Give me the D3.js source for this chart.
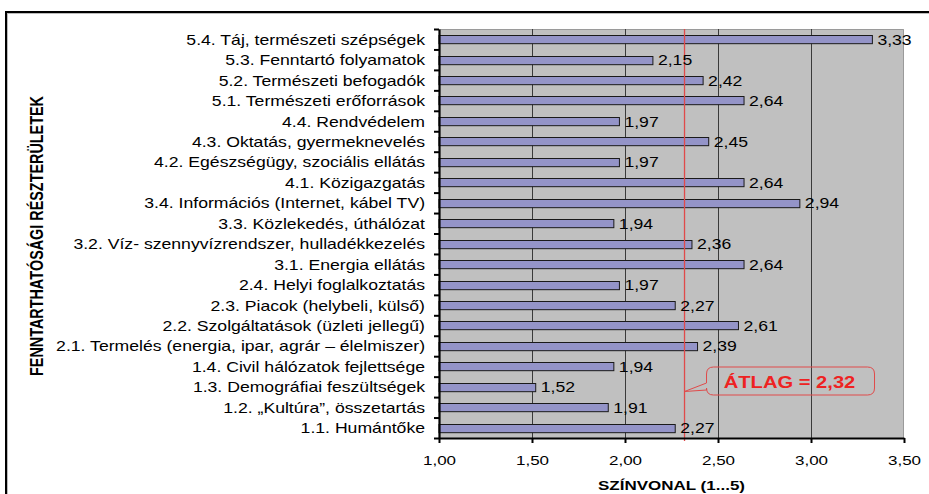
<!DOCTYPE html>
<html>
<head>
<meta charset="utf-8">
<script src="https://cdn.jsdelivr.net/npm/d3@7"></script>
<style>
  body { margin: 0; background: #fff; }
  svg { display: block; font-family: Arial, "Liberation Sans", sans-serif; }
</style>
</head>
<body>
<div id="chart"></div>
<script>
// chart data, top to bottom
const categories = [
    "5.4. Táj, természeti szépségek",
    "5.3. Fenntartó folyamatok",
    "5.2. Természeti befogadók",
    "5.1. Természeti erőforrások",
    "4.4. Rendvédelem",
    "4.3. Oktatás, gyermeknevelés",
    "4.2. Egészségügy, szociális ellátás",
    "4.1. Közigazgatás",
    "3.4. Információs (Internet, kábel TV)",
    "3.3. Közlekedés, úthálózat",
    "3.2. Víz- szennyvízrendszer, hulladékkezelés",
    "3.1. Energia ellátás",
    "2.4. Helyi foglalkoztatás",
    "2.3. Piacok (helybeli, külső)",
    "2.2. Szolgáltatások (üzleti jellegű)",
    "2.1. Termelés (energia, ipar, agrár – élelmiszer)",
    "1.4. Civil hálózatok fejlettsége",
    "1.3. Demográfiai feszültségek",
    "1.2. „Kultúra”, összetartás",
    "1.1. Humántőke"
]
const values = [3.33, 2.15, 2.42, 2.64, 1.97, 2.45, 1.97, 2.64, 2.94, 1.94,
    2.36, 2.64, 1.97, 2.27, 2.61, 2.39, 1.94, 1.52, 1.91, 2.27]
const xTicks = [1.00, 1.50, 2.00, 2.50, 3.00, 3.50]
const average = 2.32
const xTitle = "SZÍNVONAL (1...5)"
const yTitle = "FENNTARTHATÓSÁGI RÉSZTERÜLETEK"

const W = 929, H = 494
const stretch = 1.26 // source picture is stretched sideways
const plot = { left: 439, right: 904, top: 29, bottom: 438 }
const fmt = d => d.toFixed(2).replace('.', ',')

const svg = d3.select('#chart')
    .append('svg')
    .attr('width', W)
    .attr('height', H)

// outer frame (cut off at right and bottom)
svg.append('rect')
    .attr('x', 7).attr('y', 13)
    .attr('width', 1000).attr('height', 1000)
    .attr('fill', 'none')
    .attr('stroke', '#bbb')
    .attr('stroke-width', 2)
svg.append('rect')
    .attr('x', 6).attr('y', 12)
    .attr('width', 1000).attr('height', 1000)
    .attr('fill', 'none')
    .attr('stroke', '#000')
    .attr('stroke-width', 2)

const x = d3.scaleLinear()
    .domain([1, 3.5])
    .range([plot.left, plot.right])
const y = d3.scaleBand()
    .domain(categories)
    .range([plot.top, plot.bottom])
    .paddingInner(0.6)
    .paddingOuter(0.3)
const yEdge = d3.scaleLinear()
    .domain([0, categories.length])
    .range([plot.top, plot.bottom])

// plot background
svg.append('rect')
    .attr('x', plot.left).attr('y', plot.top)
    .attr('width', plot.right - plot.left)
    .attr('height', plot.bottom - plot.top)
    .attr('fill', '#c0c0c0')
svg.append('path')
    .attr('d', `M${plot.left},${plot.top + 0.5}H${plot.right - 0.5}V${plot.bottom}`)
    .attr('fill', 'none')
    .attr('stroke', '#9a9a9a')

// grid lines
svg.append('g')
    .selectAll('line')
    .data(xTicks.slice(1, -1))
    .join('line')
    .attr('x1', d => Math.round(x(d)) + 0.5)
    .attr('x2', d => Math.round(x(d)) + 0.5)
    .attr('y1', plot.top)
    .attr('y2', plot.bottom)
    .attr('stroke', '#3a3a3a')

// bars
svg.append('g')
    .selectAll('rect')
    .data(values)
    .join('rect')
    .attr('x', x(1))
    .attr('y', (d, i) => Math.round(y(categories[i])) + 0.5)
    .attr('width', d => x(d) - x(1))
    .attr('height', y.bandwidth())
    .attr('fill', '#9494c8')
    .attr('stroke', '#1a1a1a')
    .attr('stroke-width', 1)

// average line
svg.append('line')
    .attr('x1', x(average)).attr('x2', x(average))
    .attr('y1', plot.top).attr('y2', plot.bottom + 3)
    .attr('stroke', '#e04a4a')
    .attr('stroke-width', 1.3)

// value labels
svg.append('g')
    .selectAll('text')
    .data(values)
    .join('text')
    .attr('transform', (d, i) => `translate(${x(d) + 5},${y(categories[i]) + y.bandwidth() / 2 + 5.5}) scale(${stretch},1)`)
    .attr('font-size', 14)
    .attr('fill', '#000')
    .text(fmt)

// y axis: ticks on category borders
const yAxis = svg.append('g')
    .attr('transform', `translate(${plot.left},0)`)
    .call(d3.axisLeft(yEdge).ticks(categories.length).tickSize(5).tickSizeOuter(0).tickFormat(''))
yAxis.select('.domain').attr('stroke-width', 2.2).attr('stroke', '#000')
yAxis.selectAll('.tick line').attr('stroke-width', 2).attr('stroke', '#000')

// category labels
svg.append('g')
    .selectAll('text')
    .data(categories)
    .join('text')
    .attr('transform', d => `translate(425,${y(d) + y.bandwidth() / 2 + 5.5}) scale(${stretch},1)`)
    .attr('text-anchor', 'end')
    .attr('font-size', 14)
    .attr('fill', '#000')
    .text(d => d)

// x axis
const xAxis = svg.append('g')
    .attr('transform', `translate(0,${plot.bottom})`)
    .call(d3.axisBottom(x).tickValues(xTicks).tickFormat(fmt).tickSize(5).tickSizeOuter(0))
xAxis.select('.domain').attr('stroke-width', 2.2).attr('stroke', '#000')
xAxis.selectAll('.tick line').attr('stroke-width', 2).attr('stroke', '#000')
xAxis.selectAll('.tick text')
    .attr('font-size', 13.5)
    .attr('font-family', 'Arial, "Liberation Sans", sans-serif')
    .attr('fill', '#000')
    .attr('y', 23)
    .attr('dy', '0.32em')
    .attr('transform', `scale(${stretch},1)`)

// axis titles
svg.append('text')
    .attr('transform', `translate(${(plot.left + plot.right) / 2},490) scale(${stretch},1)`)
    .attr('text-anchor', 'middle')
    .attr('font-size', 13.5)
    .attr('font-weight', 'bold')
    .attr('fill', '#000')
    .text(xTitle)
svg.append('text')
    .attr('transform', `translate(43,236) rotate(-90) scale(1,${stretch})`)
    .attr('text-anchor', 'middle')
    .attr('font-size', 14.4)
    .attr('font-weight', 'bold')
    .attr('fill', '#000')
    .text(yTitle)

// callout for the average
const tipX = x(average), tipY = 391.5
const bx0 = tipX + 22, bx1 = tipX + 190, by0 = 367, by1 = 395, r = 7
const callout = d3.path()
callout.moveTo(bx0, by1 - 5)
callout.lineTo(tipX, tipY)
callout.lineTo(bx0, by0 + 16)
callout.lineTo(bx0, by0 + r)
callout.quadraticCurveTo(bx0, by0, bx0 + r, by0)
callout.lineTo(bx1 - r, by0)
callout.quadraticCurveTo(bx1, by0, bx1, by0 + r)
callout.lineTo(bx1, by1 - r)
callout.quadraticCurveTo(bx1, by1, bx1 - r, by1)
callout.lineTo(bx0 + r, by1)
callout.quadraticCurveTo(bx0, by1, bx0, by1 - r)
callout.closePath()
svg.append('path')
    .attr('d', callout.toString())
    .attr('fill', 'none')
    .attr('stroke', '#e04a4a')
    .attr('stroke-width', 1)
svg.append('text')
    .attr('transform', `translate(${(bx0 + bx1) / 2 - 1},388) scale(${stretch},1)`)
    .attr('text-anchor', 'middle')
    .attr('font-size', 16)
    .attr('font-weight', 'bold')
    .attr('fill', '#ee2222')
    .text('ÁTLAG = ' + fmt(average))
</script>
</body>
</html>
